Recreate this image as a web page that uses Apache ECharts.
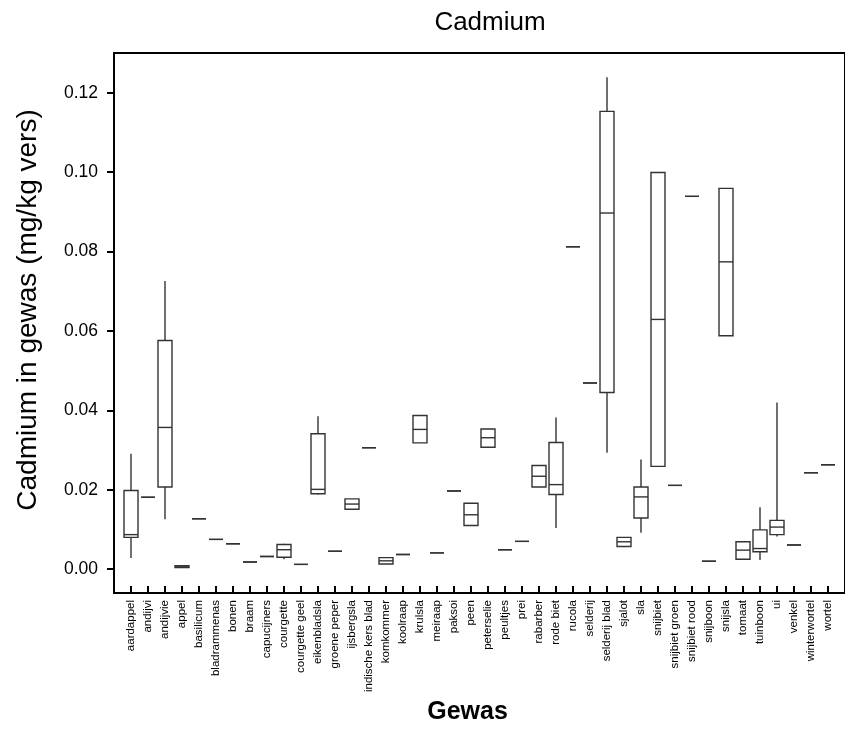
<!DOCTYPE html>
<html lang="nl">
<head>
    <meta charset="UTF-8">
    <title>Cadmium</title>
    <script type="text/javascript" src="https://cdn.jsdelivr.net/npm/echarts@6/dist/echarts.min.js"></script>
    <style>
        html, body { margin: 0; padding: 0; background: #fff; }
        #chart { width: 845px; height: 740px; }
    </style>
</head>
<body>
<div id="chart"></div>
<script>
    // gewassen op de x-as
    var categories = ['aardappel', 'andijvi', 'andijvie', 'appel', 'basilicum', 'bladrammenas', 'bonen', 'braam',
        'capucijners', 'courgette', 'courgette geel', 'eikenbladsla', 'groene peper', 'ijsbergsla',
        'indische kers blad', 'komkommer', 'koolraap', 'krulsla', 'meiraap', 'paksoi', 'peen', 'peterselie',
        'peultjes', 'prei', 'rabarber', 'rode biet', 'rucola', 'selderij', 'selderij blad', 'sjalot', 'sla',
        'snijbiet', 'snijbiet groen', 'snijbiet rood', 'snijboon', 'snijsla', 'tomaat', 'tuinboon', 'ui',
        'venkel', 'winterwortel', 'wortel'];

    var minVals = [0.0028, 0.0181, 0.0126, 0.0003, 0.0127, 0.0075, 0.0064, 0.0018, 0.0032, 0.0025, 0.0012, 0.0188,
        0.0045, 0.0151, 0.0306, 0.0013, 0.0037, 0.0318, 0.0041, 0.0197, 0.0110, 0.0307, 0.0049, 0.0070, 0.0207,
        0.0104, 0.0812, 0.0469, 0.0293, 0.0057, 0.0092, 0.0259, 0.0211, 0.0939, 0.0020, 0.0588, 0.0025, 0.0023,
        0.0082, 0.0061, 0.0243, 0.0263];
    var q1Vals = [0.0080, 0.0181, 0.0207, 0.0004, 0.0127, 0.0075, 0.0064, 0.0018, 0.0032, 0.0030, 0.0012, 0.0190,
        0.0045, 0.0151, 0.0306, 0.0013, 0.0037, 0.0318, 0.0041, 0.0197, 0.0110, 0.0307, 0.0049, 0.0070, 0.0207,
        0.0188, 0.0812, 0.0469, 0.0445, 0.0057, 0.0129, 0.0259, 0.0211, 0.0939, 0.0020, 0.0588, 0.0025, 0.0044,
        0.0087, 0.0061, 0.0243, 0.0263];
    var medianVals = [0.0087, 0.0181, 0.0357, 0.0006, 0.0127, 0.0075, 0.0064, 0.0018, 0.0032, 0.0049, 0.0012, 0.0201,
        0.0045, 0.0164, 0.0306, 0.0021, 0.0037, 0.0352, 0.0041, 0.0197, 0.0137, 0.0331, 0.0049, 0.0070, 0.0234,
        0.0213, 0.0812, 0.0469, 0.0897, 0.0069, 0.0182, 0.0629, 0.0211, 0.0939, 0.0020, 0.0774, 0.0048, 0.0052,
        0.0106, 0.0061, 0.0243, 0.0263];
    var q3Vals = [0.0198, 0.0181, 0.0576, 0.0009, 0.0127, 0.0075, 0.0064, 0.0018, 0.0032, 0.0062, 0.0012, 0.0341,
        0.0045, 0.0177, 0.0306, 0.0029, 0.0037, 0.0387, 0.0041, 0.0197, 0.0166, 0.0353, 0.0049, 0.0070, 0.0261,
        0.0319, 0.0812, 0.0469, 0.1153, 0.0080, 0.0207, 0.0999, 0.0211, 0.0939, 0.0020, 0.0959, 0.0069, 0.0099,
        0.0123, 0.0061, 0.0243, 0.0263];
    var maxVals = [0.0291, 0.0181, 0.0726, 0.0010, 0.0127, 0.0075, 0.0064, 0.0018, 0.0032, 0.0064, 0.0012, 0.0385,
        0.0045, 0.0177, 0.0306, 0.0029, 0.0037, 0.0387, 0.0041, 0.0197, 0.0166, 0.0353, 0.0049, 0.0070, 0.0261,
        0.0382, 0.0812, 0.0469, 0.1239, 0.0080, 0.0276, 0.0999, 0.0211, 0.0939, 0.0020, 0.0959, 0.0069, 0.0156,
        0.0420, 0.0061, 0.0243, 0.0263];

    var yTicks = [0, 0.02, 0.04, 0.06, 0.08, 0.10, 0.12];

    // lege categorie voor en na, zodat de eerste box een plek van de as af staat
    var axisCats = [''].concat(categories).concat(['']);
    var boxData = [];
    for (var i = 0; i < categories.length; i++) {
        boxData.push([i + 1, minVals[i], q1Vals[i], medianVals[i], q3Vals[i], maxVals[i]]);
    }

    var font = 'Liberation Sans, Arial, sans-serif';
    var myChart = echarts.init(document.getElementById('chart'));

    var option = {
        backgroundColor: '#fff',
        animation: false,
        title: {
            text: 'Cadmium',
            left: 485,
            textAlign: 'center',
            top: 5,
            textStyle: {fontFamily: font, fontSize: 26, fontWeight: 'normal', color: '#000'}
        },
        grid: {
            left: 114,
            right: -10,
            top: 53,
            bottom: 147,
            show: true,
            borderColor: '#000',
            borderWidth: 2
        },
        xAxis: {
            type: 'category',
            data: axisCats,
            boundaryGap: false,
            name: 'Gewas',
            nameLocation: 'middle',
            nameGap: 95,
            nameTextStyle: {fontFamily: font, fontSize: 25, fontWeight: 'bold', color: '#000', padding: [0, 24, 0, 0]},
            axisLine: {onZero: false, lineStyle: {color: '#000', width: 2}},
            axisTick: {
                inside: true,
                length: 7,
                lineStyle: {color: '#000', width: 2},
                interval: function (idx, val) { return val !== ''; }
            },
            axisLabel: {
                rotate: 90,
                interval: 0,
                margin: 7,
                fontFamily: font,
                fontSize: 11.5,
                color: '#000'
            },
            splitLine: {show: false}
        },
        yAxis: {
            type: 'value',
            min: -0.006,
            max: 0.13,
            name: 'Cadmium in gewas (mg/kg vers)',
            nameLocation: 'middle',
            nameGap: 72,
            nameTextStyle: {fontFamily: font, fontSize: 28, color: '#000', padding: [0, 0, 0, 26]},
            axisLine: {show: true, lineStyle: {color: '#000', width: 2}},
            axisTick: {show: true, length: 7, lineStyle: {color: '#000', width: 2}, customValues: yTicks},
            axisLabel: {
                margin: 16,
                fontFamily: font,
                fontSize: 17.5,
                color: '#000',
                customValues: yTicks,
                formatter: function (v) { return v.toFixed(2); }
            },
            splitLine: {show: false}
        },
        series: [{
            type: 'custom',
            data: boxData,
            encode: {x: 0, y: [1, 2, 3, 4, 5]},
            renderItem: function (params, api) {
                var x = api.value(0);
                var pMin = api.coord([x, api.value(1)]);
                var pQ1 = api.coord([x, api.value(2)]);
                var pMed = api.coord([x, api.value(3)]);
                var pQ3 = api.coord([x, api.value(4)]);
                var pMax = api.coord([x, api.value(5)]);
                var hw = 7;
                var cx = pMed[0];
                var st = {stroke: '#333', lineWidth: 1.4, fill: null};
                return {
                    type: 'group',
                    children: [
                        {type: 'line', shape: {x1: cx, y1: pMax[1], x2: cx, y2: pQ3[1]}, style: st},
                        {type: 'line', shape: {x1: cx, y1: pQ1[1], x2: cx, y2: pMin[1]}, style: st},
                        {type: 'rect', shape: {x: cx - hw, y: pQ3[1], width: hw * 2, height: pQ1[1] - pQ3[1]},
                            style: {stroke: '#333', lineWidth: 1.4, fill: '#fff'}},
                        {type: 'line', shape: {x1: cx - hw, y1: pMed[1], x2: cx + hw, y2: pMed[1]}, style: st}
                    ]
                };
            }
        }]
    };
    myChart.setOption(option);
</script>
</body>
</html>
